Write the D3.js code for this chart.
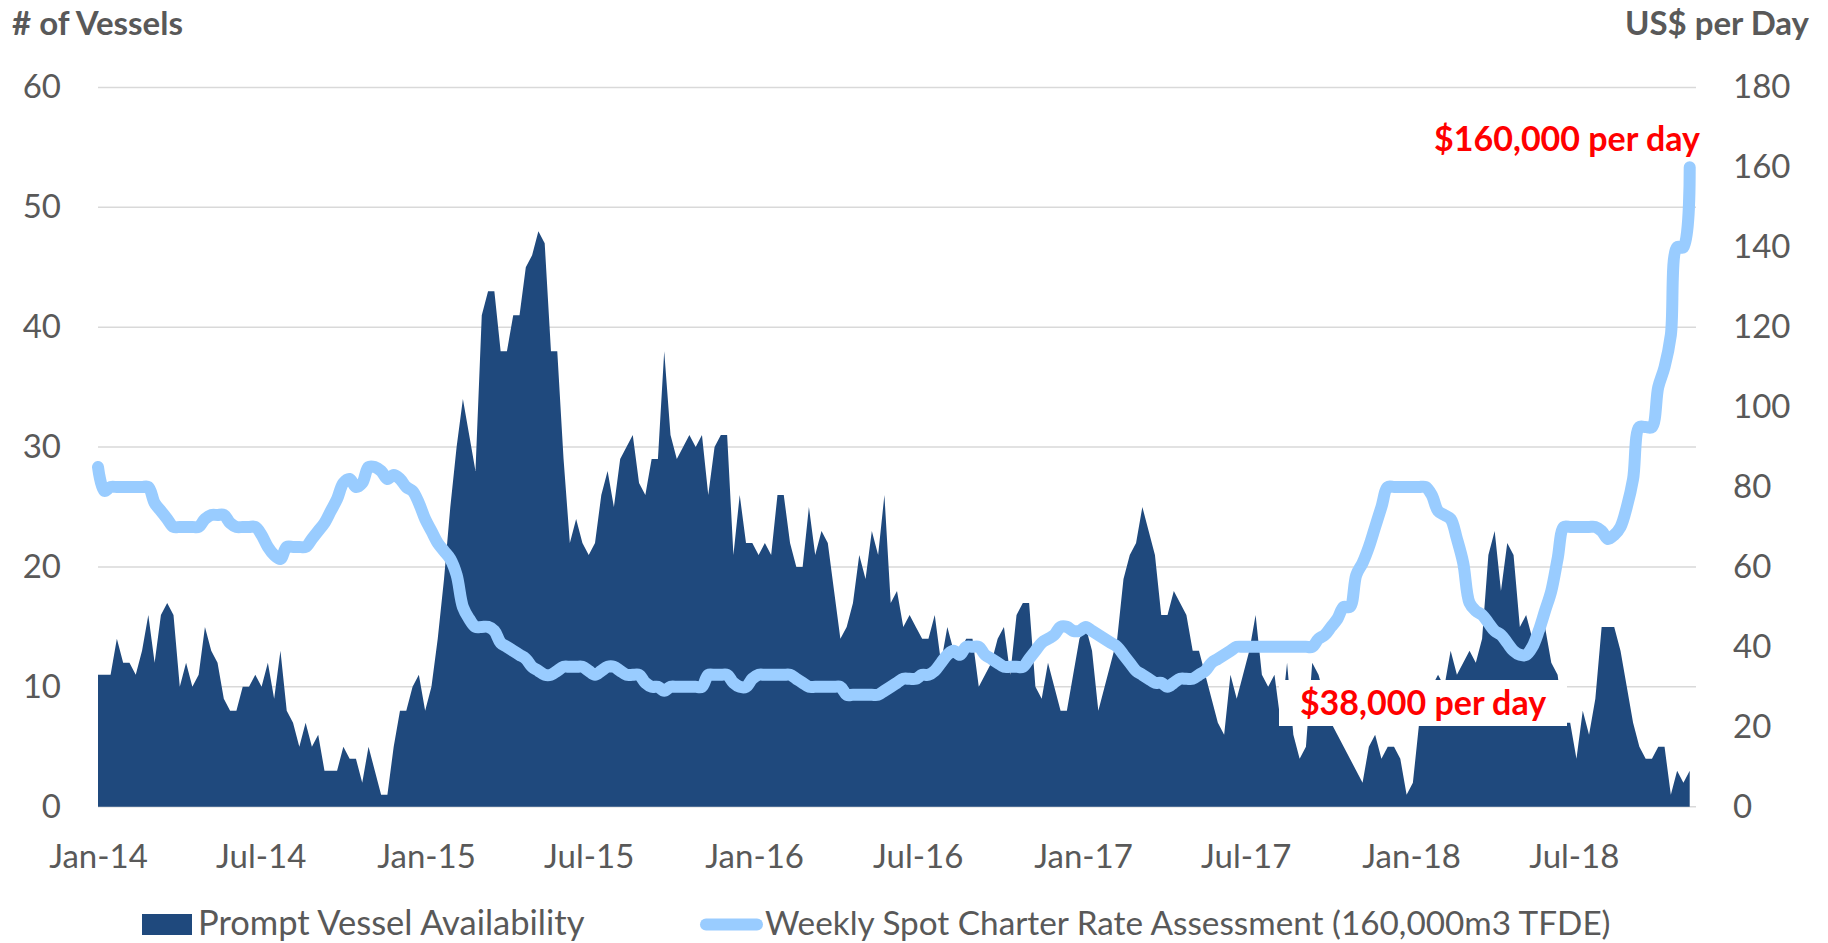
<!DOCTYPE html>
<html>
<head>
<meta charset="utf-8">
<script src="https://cdn.jsdelivr.net/npm/d3@7/dist/d3.min.js"></script>
<style>
  body { margin: 0; background: #fff; }
  text { font-family: Lato, "Open Sans", sans-serif; }
</style>
</head>
<body>
<svg id="chart" width="1828" height="943"></svg>
<script>
// weekly readings, first week = 1 Jan 2014
const firstWeek = "2014-01-01";
const axisEnd = "2018-11-14";

// Prompt Vessel Availability (# of vessels)
const vessels = [
  11, 11, 11, 14, 12, 12, 11, 13, 16, 12,
  16, 17, 16, 10, 12, 10, 11, 15, 13, 12,
  9, 8, 8, 10, 10, 11, 10, 12, 9, 13,
  8, 7, 5, 7, 5, 6, 3, 3, 3, 5,
  4, 4, 2, 5, 3, 1, 1, 5, 8, 8,
  10, 11, 8, 10, 14, 19, 25, 30, 34, 31,
  28, 41, 43, 43, 38, 38, 41, 41, 45, 46,
  48, 47, 38, 38, 29, 22, 24, 22, 21, 22,
  26, 28, 25, 29, 30, 31, 27, 26, 29, 29,
  38, 31, 29, 30, 31, 30, 31, 26, 30, 31,
  31, 21, 26, 22, 22, 21, 22, 21, 26, 26,
  22, 20, 20, 25, 21, 23, 22, 18, 14, 15,
  17, 21, 19, 23, 21, 26, 17, 18, 15, 16,
  15, 14, 14, 16, 12, 15, 13, 13, 14, 14,
  10, 11, 12, 14, 15, 11, 16, 17, 17, 10,
  9, 12, 10, 8, 8, 11, 14, 15, 13, 8,
  10, 12, 14, 19, 21, 22, 25, 23, 21, 16,
  16, 18, 17, 16, 13, 13, 11, 9, 7, 6,
  11, 9, 11, 13, 16, 11, 10, 11, 7, 12,
  6, 4, 5, 12, 11, 9, 7, 6, 5, 4,
  3, 2, 5, 6, 4, 5, 5, 4, 1, 2,
  7, 10, 10, 11, 10, 13, 11, 12, 13, 12,
  14, 21, 23, 18, 22, 21, 15, 16, 14, 15,
  15, 12, 11, 7, 7, 4, 8, 6, 9, 15,
  15, 15, 13, 10, 7, 5, 4, 4, 5, 5,
  1, 3, 2, 3
];

// Weekly spot charter rate (US$ thousand per day)
const rates = [
  85, 79, 80, 80, 80, 80, 80, 80, 80, 76,
  74, 72, 70, 70, 70, 70, 70, 72, 73, 73,
  73, 71, 70, 70, 70, 70, 68, 65, 63, 62,
  65, 65, 65, 65, 67, 69, 71, 74, 77, 81,
  82, 80, 81, 85, 85, 84, 82, 83, 82, 80,
  79, 76, 72, 69, 66, 64, 62, 58, 50, 47,
  45, 45, 45, 44, 41, 40, 39, 38, 37, 35,
  34, 33, 33, 34, 35, 35, 35, 35, 34, 33,
  34, 35, 35, 34, 33, 33, 33, 31, 30, 30,
  29, 30, 30, 30, 30, 30, 30, 33, 33, 33,
  33, 31, 30, 30, 32, 33, 33, 33, 33, 33,
  33, 32, 31, 30, 30, 30, 30, 30, 30, 28,
  28, 28, 28, 28, 28, 29, 30, 31, 32, 32,
  32, 33, 33, 34, 36, 38, 39, 38, 40, 40,
  40, 38, 37, 36, 35, 35, 35, 35, 37, 39,
  41, 42, 43, 45, 45, 44, 44, 45, 44, 43,
  42, 41, 40, 38, 36, 34, 33, 32, 31, 31,
  30, 31, 32, 32, 32, 33, 34, 36, 37, 38,
  39, 40, 40, 40, 40, 40, 40, 40, 40, 40,
  40, 40, 40, 40, 42, 43, 45, 47, 50, 50,
  58, 61, 65, 70, 75, 80, 80, 80, 80, 80,
  80, 80, 78, 74, 73, 72, 67, 61, 51, 49,
  48, 46, 44, 43, 41, 39, 38, 38, 40, 44,
  49, 54, 62, 70, 70, 70, 70, 70, 70, 69,
  67, 68, 70, 75, 82, 95, 95, 95, 105, 110,
  118, 140, 140, 160
];

const xTickLabels = ["Jan-14", "Jul-14", "Jan-15", "Jul-15", "Jan-16", "Jul-16", "Jan-17", "Jul-17", "Jan-18", "Jul-18"];
const leftTicks = [0, 10, 20, 30, 40, 50, 60];
const rightTicks = [0, 20, 40, 60, 80, 100, 120, 140, 160, 180];
const seriesNames = ["Prompt Vessel Availability", "Weekly Spot Charter Rate Assessment (160,000m3 TFDE)"];
const axisTitles = ["# of Vessels", "US$ per Day"];
const callouts = ["$160,000 per day", "$38,000 per day"];

const navy = "#1F497D";
const sky = "#99CCFF";
const grey = "#595959";
const gridColor = "#D9D9D9";

const svg = d3.select("#chart");
const plot = { left: 98, right: 1696, top: 87.4, bottom: 806.7 };

const parseDay = d3.timeParse("%Y-%m-%d");
const parseTick = d3.timeParse("%b-%y");
const start = parseDay(firstWeek);

const rows = vessels.map((v, i) => ({
  date: d3.timeDay.offset(start, 7 * i),
  vessels: v,
  rate: rates[i]
}));

const x = d3.scaleTime()
  .domain([start, parseDay(axisEnd)])
  .range([plot.left, plot.right]);
const yLeft = d3.scaleLinear().domain([0, 60]).range([plot.bottom, plot.top]);
const yRight = d3.scaleLinear().domain([0, 180]).range([plot.bottom, plot.top]);

// gridlines
svg.append("g")
  .selectAll("line")
  .data(leftTicks)
  .join("line")
  .attr("x1", plot.left)
  .attr("x2", plot.right)
  .attr("y1", d => yLeft(d))
  .attr("y2", d => yLeft(d))
  .attr("stroke", gridColor)
  .attr("stroke-width", 1.5);

// area series
const area = d3.area()
  .x(d => x(d.date))
  .y0(yLeft(0))
  .y1(d => yLeft(d.vessels));

svg.append("path")
  .datum(rows)
  .attr("d", area)
  .attr("fill", navy);

// white box behind the lower callout
const boxNote = svg.append("g");
boxNote.append("rect")
  .attr("x", 1279)
  .attr("y", 680)
  .attr("width", 288)
  .attr("height", 46)
  .attr("fill", "#fff");
boxNote.append("text")
  .attr("x", 1423)
  .attr("y", 715)
  .attr("text-anchor", "middle")
  .attr("font-size", 34)
  .attr("font-weight", "bold")
  .attr("fill", "#FF0000")
  .text(callouts[1]);

// rate line
const line = d3.line()
  .x(d => x(d.date))
  .y(d => yRight(d.rate))
  .curve(d3.curveCatmullRom.alpha(0.5));

svg.append("path")
  .datum(rows)
  .attr("d", line)
  .attr("fill", "none")
  .attr("stroke", sky)
  .attr("stroke-width", 12)
  .attr("stroke-linecap", "round")
  .attr("stroke-linejoin", "round");

// top callout
svg.append("text")
  .attr("x", 1700)
  .attr("y", 151)
  .attr("text-anchor", "end")
  .attr("font-size", 34)
  .attr("font-weight", "bold")
  .attr("fill", "#FF0000")
  .text(callouts[0]);

// axes
function styleAxis(g) {
  g.select(".domain").remove();
  g.selectAll("text")
    .attr("fill", grey)
    .attr("font-size", 33)
    .attr("font-family", "Lato, 'Open Sans', sans-serif");
}

svg.append("g")
  .attr("transform", `translate(${plot.left},0)`)
  .call(d3.axisLeft(yLeft).tickValues(leftTicks).tickSize(0).tickPadding(37))
  .call(styleAxis);

svg.append("g")
  .attr("transform", `translate(${plot.right},0)`)
  .call(d3.axisRight(yRight).tickValues(rightTicks).tickSize(0).tickPadding(37))
  .call(styleAxis);

svg.append("g")
  .attr("transform", `translate(0,${plot.bottom})`)
  .call(d3.axisBottom(x)
    .tickValues(xTickLabels.map(parseTick))
    .tickFormat(d3.timeFormat("%b-%y"))
    .tickSize(0)
    .tickPadding(38))
  .call(styleAxis);

// axis titles
svg.append("text")
  .attr("x", 12)
  .attr("y", 35)
  .attr("font-size", 33)
  .attr("font-weight", "bold")
  .attr("fill", grey)
  .text(axisTitles[0]);

svg.append("text")
  .attr("x", 1809)
  .attr("y", 35)
  .attr("text-anchor", "end")
  .attr("font-size", 33)
  .attr("font-weight", "bold")
  .attr("fill", grey)
  .text(axisTitles[1]);

// legend
const legend = svg.append("g");
legend.append("rect")
  .attr("x", 142)
  .attr("y", 914)
  .attr("width", 50)
  .attr("height", 21)
  .attr("fill", navy);
legend.append("text")
  .attr("x", 198)
  .attr("y", 935)
  .attr("font-size", 34.5)
  .attr("fill", grey)
  .text(seriesNames[0]);
legend.append("line")
  .attr("x1", 706)
  .attr("x2", 757)
  .attr("y1", 924.5)
  .attr("y2", 924.5)
  .attr("stroke", sky)
  .attr("stroke-width", 12)
  .attr("stroke-linecap", "round");
legend.append("text")
  .attr("x", 765)
  .attr("y", 935)
  .attr("font-size", 33.3)
  .attr("fill", grey)
  .text(seriesNames[1]);
</script>
</body>
</html>
